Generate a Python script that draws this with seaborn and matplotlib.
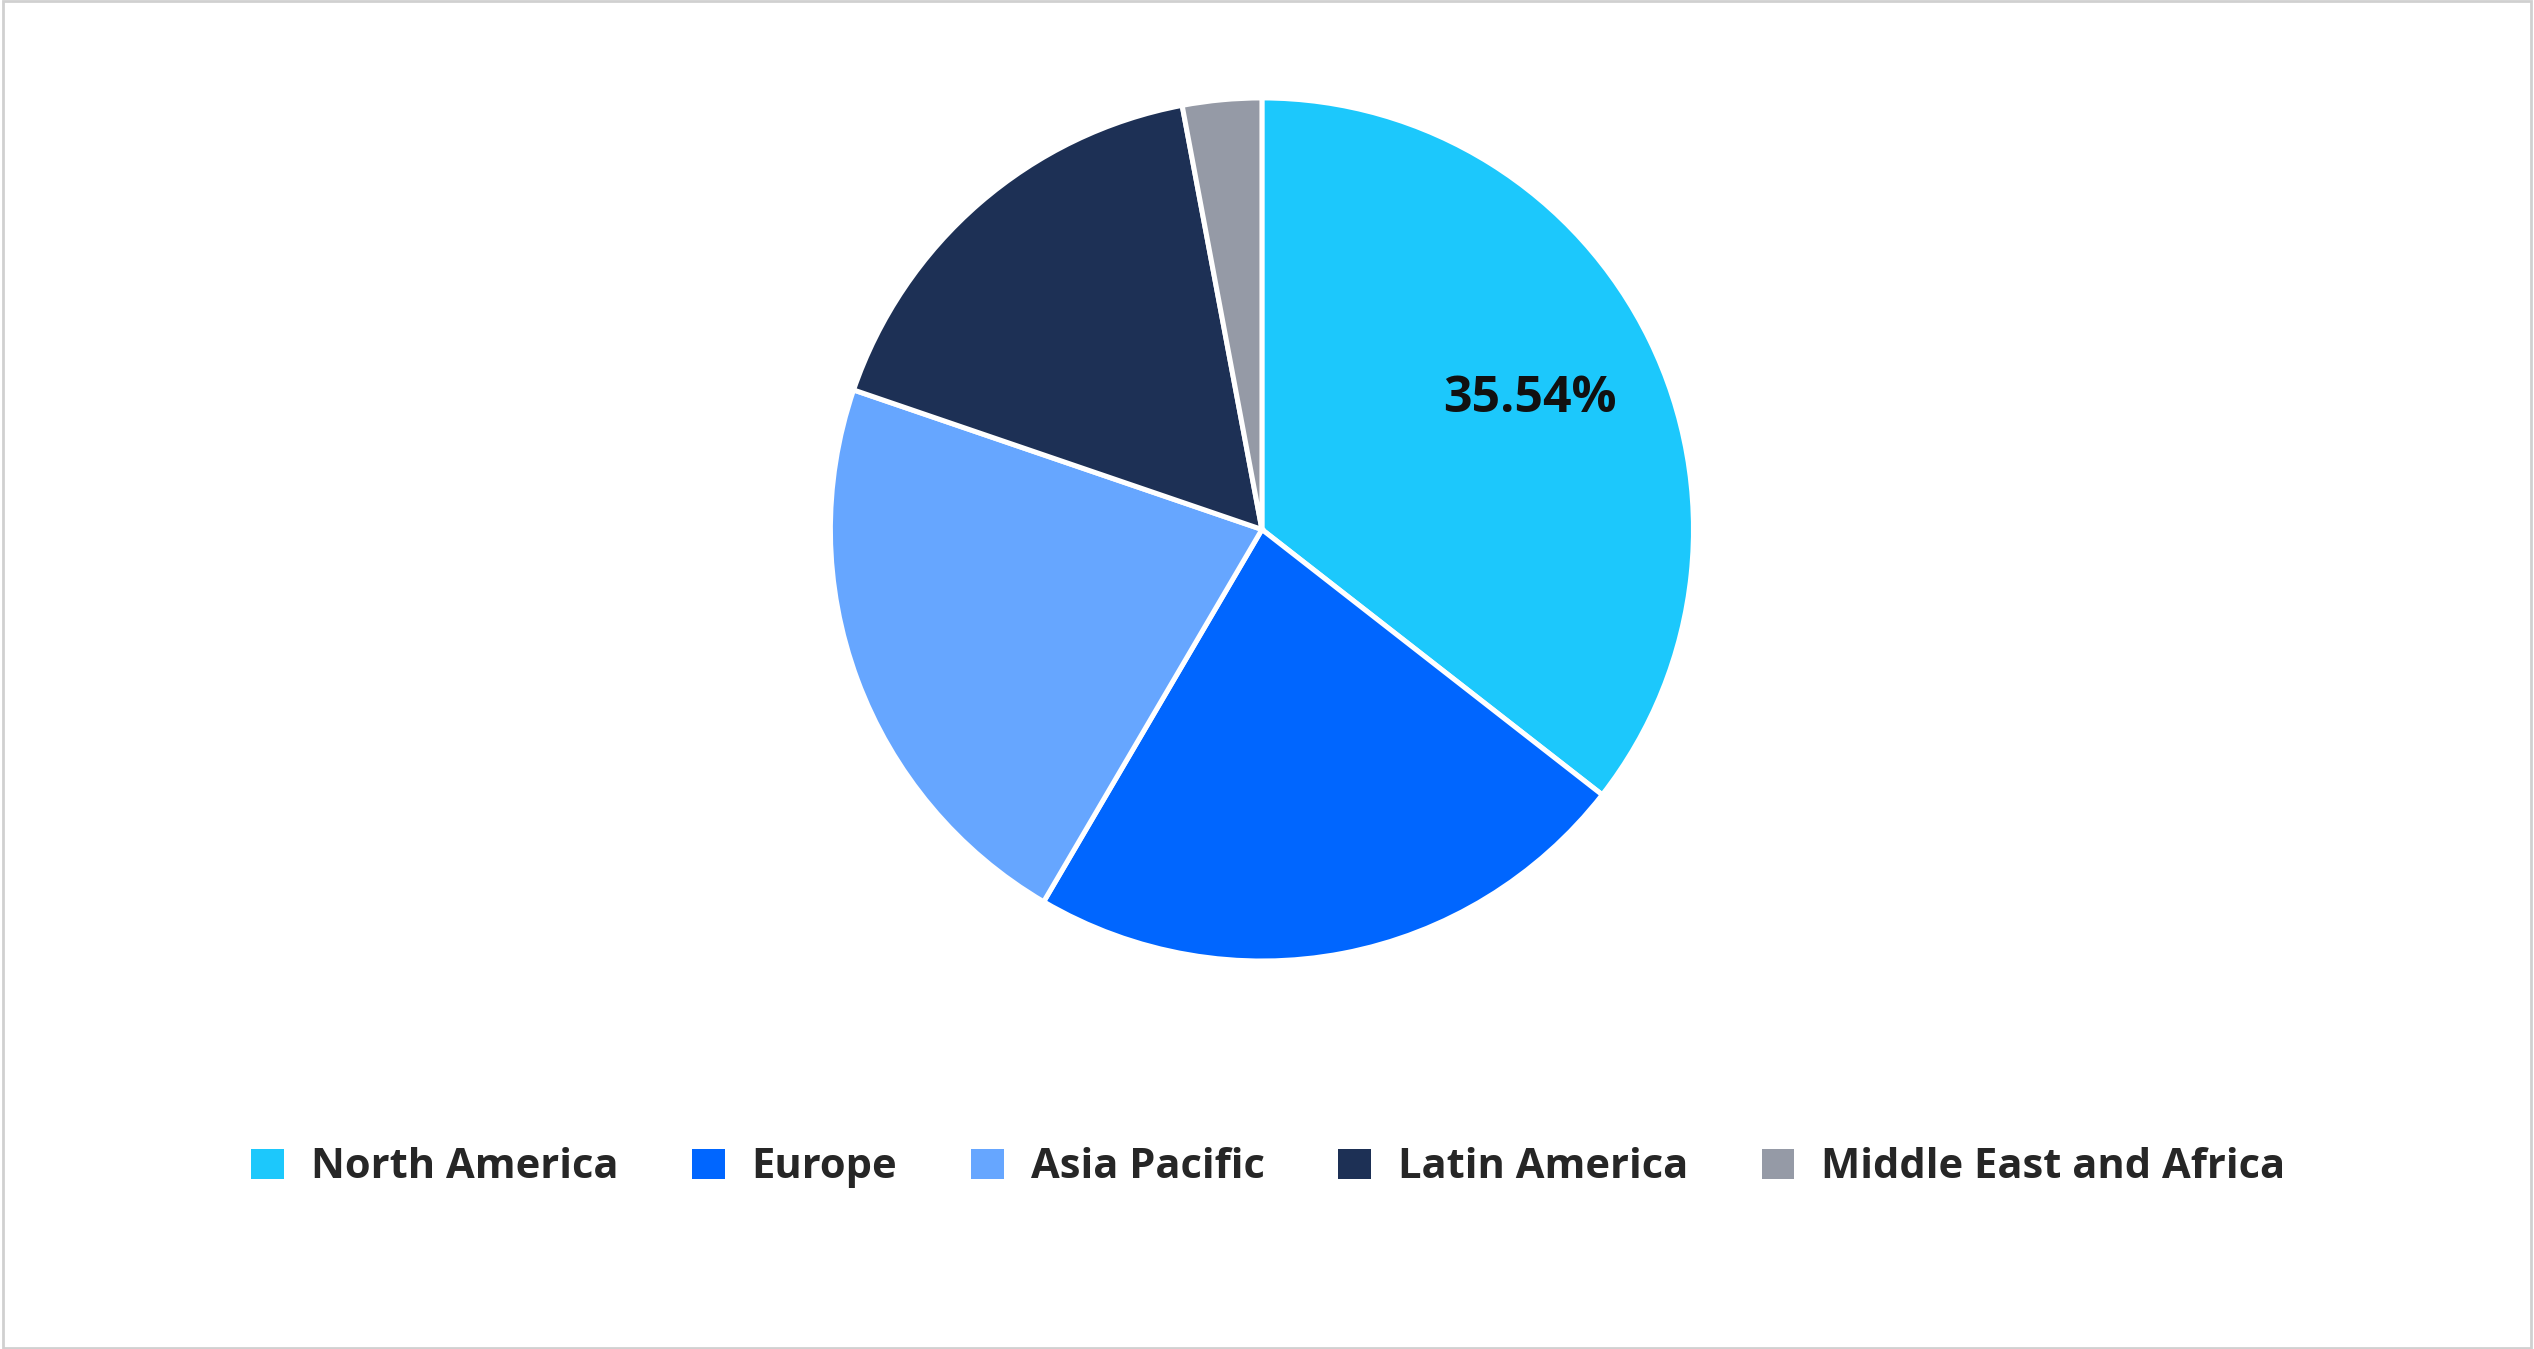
import matplotlib
matplotlib.use("Agg")
import matplotlib.pyplot as plt
import seaborn as sns
from matplotlib.patches import Rectangle

sns.set_theme(style="white")
plt.rcParams['font.family'] = ['Open Sans', 'DejaVu Sans']

# data
regions = ['North America', 'Europe', 'Asia Pacific', 'Latin America', 'Middle East and Africa']
shares = [35.54, 22.9, 21.8, 16.8, 2.96]
colors = ['#1CC8FC', '#0066FF', '#66A6FF', '#1D3055', '#959AA6']

fig = plt.figure(figsize=(25.34, 13.49), dpi=100)
fig.patches.append(Rectangle((0.001, 0.001), 0.998, 0.998, transform=fig.transFigure,
                             fill=False, edgecolor='#d0d0d0', linewidth=2))

ax = fig.add_axes([0.326, 0.284, 0.344, 0.647])

def fmt(p):
    return f'{p:.2f}%' if p > 30 else ''

wedges, texts, autotexts = ax.pie(
    shares, colors=colors, startangle=90, counterclock=False,
    autopct=fmt, pctdistance=0.69,
    wedgeprops=dict(edgecolor='white', linewidth=3.6),
    textprops=dict(fontsize=36, fontweight='bold', color='#111111'))
ax.set_xlim(-1.01, 1.01)
ax.set_ylim(-1.01, 1.01)
ax.set_aspect('equal')

fig.legend(wedges, regions, loc='center', bbox_to_anchor=(0.5, 0.135), ncol=5,
           frameon=False, prop=dict(size=30, weight='bold'),
           handlelength=0.9, handleheight=0.9, columnspacing=1.7, handletextpad=0.6)

fig.savefig('out.png', dpi=100)
